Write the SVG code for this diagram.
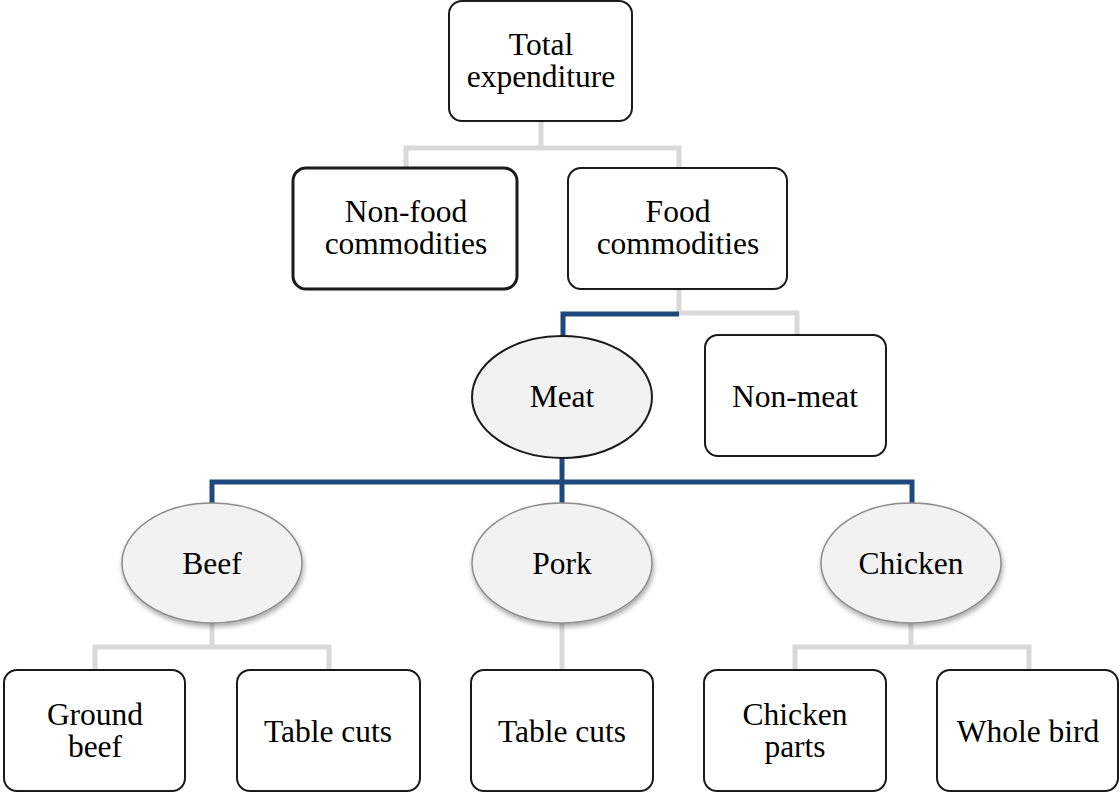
<svg xmlns="http://www.w3.org/2000/svg" width="1120" height="792" viewBox="0 0 1120 792">
<style>
.box{fill:#fff;stroke:#1a1a1a;stroke-width:2}
.thick{stroke-width:3}
.ovm{fill:#f2f2f2;stroke:#1a1a1a;stroke-width:2}
.ovs{fill:#f2f2f2;stroke:#8c8c8c;stroke-width:1.5}
.g{fill:none;stroke:#d9d9d9;stroke-width:5}
.b{fill:none;stroke:#1f497d;stroke-width:5}
.t{font-family:"Liberation Serif","Times New Roman",serif;font-size:31.5px;fill:#000;text-anchor:middle}
</style>
<defs>
<filter id="sh" x="-20%" y="-20%" width="140%" height="150%">
<feDropShadow dx="1" dy="3" stdDeviation="2.5" flood-color="#000" flood-opacity="0.35"/>
</filter>
</defs>
<g id="connectors">
<path class="g" d="M541,121 V148 M406,168 V148 H679 V168"/>
<path class="g" d="M679,289 V313 H797 V335"/>
<path class="b" d="M679,314 H563 V337"/>
<path class="b" d="M562,458 V504 M212,504 V482 H912 V504"/>
<path class="g" d="M212,623 V647 M95,670 V647 H329 V670"/>
<path class="g" d="M562,623 V670"/>
<path class="g" d="M911,623 V647 M795,670 V647 H1029 V670"/>
</g>
<g id="total"><rect class="box" x="449" y="1" width="183" height="120" rx="13"/><text class="t" x="541" y="55">Total</text><text class="t" x="541" y="87">expenditure</text></g>
<g id="nonfood"><rect class="box thick" x="293" y="168" width="224" height="121" rx="13"/><text class="t" x="406" y="222">Non-food</text><text class="t" x="406" y="254">commodities</text></g>
<g id="food"><rect class="box" x="568" y="168" width="219" height="121" rx="13"/><text class="t" x="678" y="222">Food</text><text class="t" x="678" y="254">commodities</text></g>
<g id="meat"><ellipse class="ovm" cx="562" cy="397" rx="90" ry="61"/><text class="t" x="562" y="407">Meat</text></g>
<g id="nonmeat"><rect class="box" x="705" y="335" width="181" height="121" rx="13"/><text class="t" x="795" y="407">Non-meat</text></g>
<g id="beef"><ellipse class="ovs" filter="url(#sh)" cx="212" cy="563" rx="90" ry="60"/><text class="t" x="212" y="574">Beef</text></g>
<g id="pork"><ellipse class="ovs" filter="url(#sh)" cx="562" cy="563" rx="90" ry="60"/><text class="t" x="562" y="574">Pork</text></g>
<g id="chicken"><ellipse class="ovs" filter="url(#sh)" cx="911" cy="563" rx="90" ry="60"/><text class="t" x="911" y="574">Chicken</text></g>
<g id="groundbeef"><rect class="box" x="4" y="670" width="181" height="121" rx="13"/><text class="t" x="95" y="725">Ground</text><text class="t" x="95" y="757">beef</text></g>
<g id="beeftable"><rect class="box" x="237" y="670" width="183" height="121" rx="13"/><text class="t" x="328" y="742">Table cuts</text></g>
<g id="porktable"><rect class="box" x="471" y="670" width="182" height="121" rx="13"/><text class="t" x="562" y="742">Table cuts</text></g>
<g id="chickenparts"><rect class="box" x="704" y="670" width="182" height="121" rx="13"/><text class="t" x="795" y="725">Chicken</text><text class="t" x="795" y="757">parts</text></g>
<g id="wholebird"><rect class="box" x="937" y="670" width="181" height="121" rx="13"/><text class="t" x="1028" y="742">Whole bird</text></g>
</svg>
